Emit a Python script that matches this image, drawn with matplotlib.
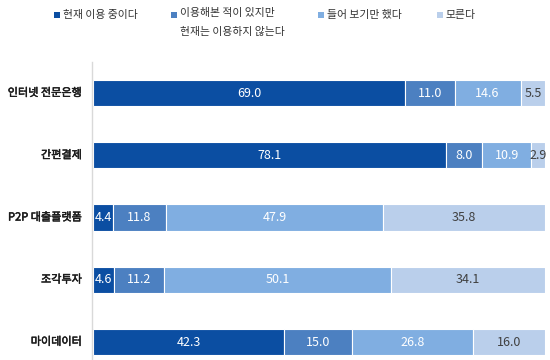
import matplotlib
matplotlib.use('Agg')
import matplotlib.pyplot as plt
import matplotlib.patheffects as pe
from matplotlib.patches import Rectangle

plt.rcParams['font.family'] = ['Noto Sans CJK KR', 'DejaVu Sans']

# data
services = ['인터넷 전문은행', '간편결제', 'P2P 대출플랫폼', '조각투자', '마이데이터']
series_names = ['현재 이용 중이다', '이용해본 적이 있지만\n현재는 이용하지 않는다',
                '들어 보기만 했다', '모른다']
using_now = [69.0, 78.1, 4.4, 4.6, 42.3]
used_before = [11.0, 8.0, 11.8, 11.2, 15.0]
heard_only = [14.6, 10.9, 47.9, 50.1, 26.8]
dont_know = [5.5, 2.9, 35.8, 34.1, 16.0]

colors = ['#0b4ea2', '#4c80c1', '#80aee1', '#bacfeb']
label_colors = ['white', 'white', 'white', '#404040']

fig = plt.figure(figsize=(5.5, 3.6), dpi=100)
fig.patch.set_facecolor('white')
ax = fig.add_axes([93 / 550, 0, 452 / 550, 298 / 360])

ys = list(range(len(services)))
left = [0.0] * len(services)
for vals, col, lc in zip([using_now, used_before, heard_only, dont_know], colors, label_colors):
    ax.barh(ys, vals, left=left, height=0.42, color=col, edgecolor='white', linewidth=0.8)
    for y, v, l in zip(ys, vals, left):
        ax.text(l + v / 2, y, f"{v:.1f}", ha='center', va='center', color=lc, fontsize=9)
    left = [l + v for l, v in zip(left, vals)]

ax.set_xlim(0, 100)
ax.set_ylim(4 + 18 / 62.25, -0.5)
ax.set_yticks(ys)
ax.set_yticklabels([])
ax.tick_params(axis='y', length=0)
# category labels, drawn as text so the heavier weight sticks
for y, name in zip(ys, services):
    ax.text(-11 / 452, y, name, transform=ax.get_yaxis_transform(), ha='right', va='center',
            fontsize=8, color='#1a1a1a',
            path_effects=[pe.withStroke(linewidth=0.35, foreground='#1a1a1a')])
ax.set_xticks([])
for s in ['top', 'right', 'bottom']:
    ax.spines[s].set_visible(False)
ax.spines['left'].set_color('#d9d9d9')
ax.spines['left'].set_linewidth(1)
ax.spines['left'].set_position(('outward', 1))

# legend drawn by hand
legend_x = [54, 171, 318, 437]
for name, col, x in zip(series_names, colors, legend_x):
    fig.add_artist(Rectangle((x / 550, 1 - 18 / 360), 6 / 550, 6 / 360,
                             transform=fig.transFigure, facecolor=col, edgecolor='none'))
    if '\n' in name:
        fig.text((x + 9) / 550, 1 - 8 / 360, name, ha='left', va='top', fontsize=7.8,
                 color='#333333', linespacing=2.05)
    else:
        fig.text((x + 9) / 550, 1 - 15 / 360, name, ha='left', va='center', fontsize=7.8,
                 color='#333333')

fig.savefig('out.png', dpi=100, facecolor='white')
